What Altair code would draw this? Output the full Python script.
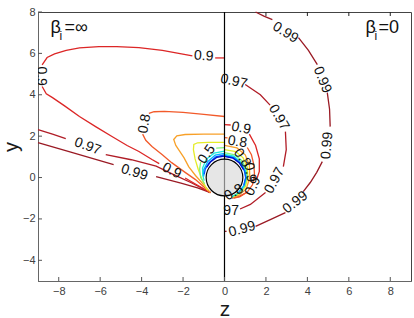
import altair as alt
import pandas as pd

# ---------------- values ----------------
X_TICKS = [-8, -6, -4, -2, 0, 2, 4, 6, 8]
Y_TICKS = [-4, -2, 0, 2, 4, 6, 8]
TOP_TICKS = [2, 4, 6, 8]

LEVELS = ["0.1", "0.2", "0.3", "0.4", "0.5", "0.6", "0.7", "0.8", "0.9", "0.97", "0.99"]
LEVEL_COLORS = ["#0010c8", "#0058ff", "#00b4ff", "#20ecd8", "#7cf27c", "#e4ec28",
                "#f8a028", "#f25a2a", "#dc2626", "#b01c26", "#9a1a24"]

# left half (beta_i = inf): contour segments, (z, y) points
L_099 = [[(-9.0, 1.69), (-7.5, 1.25), (-5.35, 0.63)],
         [(-3.3, 0.05), (-2.1, -0.27), (-1.3, -0.5), (-0.68, -0.73)]]
L_097 = [[(-9.0, 2.32), (-8.3, 2.1), (-7.66, 1.88)],
         [(-5.73, 1.11), (-4.5, 0.86), (-3.3, 0.55), (-2.4, 0.12), (-1.6, -0.25), (-0.68, -0.73)]]
L_090 = [[(-0.45, 5.78), (0.0, 5.78)],
         [(-1.55, 5.88), (-1.88, 5.94), (-3.0, 6.15), (-4.13, 6.28), (-5.2, 6.33), (-6.06, 6.33),
          (-7.0, 6.27), (-7.64, 6.15), (-8.2, 5.98), (-8.56, 5.8), (-8.8, 5.45)],
         [(-8.8, 4.4), (-8.6, 4.05), (-8.3, 3.86), (-7.7, 3.45), (-7.0, 2.95), (-6.2, 2.45),
          (-5.43, 1.98), (-4.7, 1.55), (-4.13, 1.26), (-3.5, 0.87), (-3.15, 0.67)],
         [(-1.9, -0.02), (-1.3, -0.37), (-0.68, -0.73)]]
L_080 = [[(0.0, 2.95), (-1.0, 3.05), (-2.0, 3.15), (-2.9, 3.2), (-3.4, 3.18), (-3.65, 3.1)],
         [(-3.95, 2.1), (-3.8, 1.8), (-3.5, 1.5), (-3.0, 1.1), (-2.55, 0.72), (-1.9, 0.25),
          (-1.4, -0.1), (-0.68, -0.73)]]
L_070 = [[(0.0, 2.1), (-1.0, 2.1), (-1.9, 2.08), (-2.3, 2.02), (-2.45, 1.84), (-2.35, 1.55),
          (-2.15, 1.25), (-1.95, 0.95), (-1.73, 0.53), (-1.4, 0.1), (-1.1, -0.24), (-0.68, -0.73)]]
L_060 = [[(0.0, 1.7), (-0.8, 1.7), (-1.3, 1.68), (-1.48, 1.6), (-1.5, 1.35), (-1.42, 0.9),
          (-1.27, 0.4), (-1.1, -0.05), (-0.9, -0.5), (-0.8, -0.62)]]
L_050 = [[(0.0, 1.45), (-0.4, 1.42)],
         [(-1.15, 0.75), (-1.2, 0.4), (-1.15, 0.0), (-0.96, -0.3)]]
L_040 = [[(0.0, 1.28), (-0.5, 1.18), (-0.88, 0.88), (-1.06, 0.45), (-1.05, 0.1), (-0.98, -0.15)]]
L_030 = [[(0.0, 1.17), (-0.45, 1.08), (-0.8, 0.78), (-1.0, 0.38), (-1.0, 0.05)]]
L_020 = [[(0.0, 1.09), (-0.42, 1.0), (-0.74, 0.72), (-0.93, 0.4), (-0.98, 0.15)]]
L_010 = [[(0.0, 1.04), (-0.38, 0.97), (-0.68, 0.75), (-0.86, 0.5)]]

# right half (beta_i = 0)
R_099 = [[(1.5, 8.0), (1.9, 7.8), (2.31, 7.63)],
         [(3.57, 6.76), (4.05, 6.15), (4.48, 5.46)],
         [(4.96, 4.1), (5.07, 3.3), (5.1, 2.46)],
         [(4.72, 0.77), (4.45, 0.25), (4.14, -0.24), (3.8, -0.68)],
         [(2.94, -1.7), (2.21, -2.03), (1.5, -2.36)],
         [(0.0, -2.6), (0.1, -2.6)]]
R_097 = [[(1.0, 4.5), (1.73, 4.0), (2.2, 3.5)],
         [(2.94, 2.22), (2.98, 1.35), (2.84, 0.53)],
         [(1.98, -0.72), (1.25, -1.3), (0.75, -1.52)]]
R_090 = [[(0.0, 2.56), (0.3, 2.54)],
         [(1.2, 2.1), (1.5, 1.55), (1.68, 0.9), (1.68, 0.3), (1.55, -0.1)],
         [(1.1, -0.7), (0.7, -0.92), (0.35, -1.0)]]
R_080 = [[(0.0, 1.93), (0.15, 1.92)],
         [(1.1, 1.45), (1.3, 1.1), (1.42, 0.6), (1.45, 0.1), (1.35, -0.35), (1.1, -0.7),
          (0.75, -0.92), (0.45, -1.0)]]
R_070 = [[(0.0, 1.55), (0.6, 1.43), (1.0, 1.1), (1.2, 0.6), (1.22, 0.0), (1.05, -0.55),
          (0.7, -0.85), (0.35, -0.97)]]
R_060 = [[(0.0, 1.35), (0.55, 1.25), (0.9, 0.95), (1.1, 0.5), (1.13, 0.0), (1.0, -0.45),
          (0.7, -0.78), (0.35, -0.95)]]
R_050 = [[(0.0, 1.2), (0.5, 1.1), (0.85, 0.8), (1.05, 0.4), (1.08, 0.0), (0.97, -0.42),
          (0.7, -0.75), (0.35, -0.94)]]
R_040 = [[(0.0, 1.12), (0.45, 1.03), (0.8, 0.73), (1.0, 0.35), (1.05, 0.0), (0.95, -0.4),
          (0.68, -0.74), (0.34, -0.94)]]
R_030 = [[(0.0, 1.07), (0.45, 0.98), (0.78, 0.7), (0.98, 0.34), (1.03, 0.0), (0.93, -0.39),
          (0.66, -0.74)]]
R_020 = [[(0.0, 1.04), (0.42, 0.96), (0.76, 0.69), (0.96, 0.32), (1.02, 0.0), (0.93, -0.38)]]
R_010 = [[(0.0, 1.02), (0.4, 0.94), (0.72, 0.7), (0.92, 0.38)]]

CONTOURS = [("0.99", L_099), ("0.97", L_097), ("0.9", L_090), ("0.8", L_080),
            ("0.7", L_070), ("0.6", L_060), ("0.5", L_050), ("0.4", L_040),
            ("0.3", L_030), ("0.2", L_020), ("0.1", L_010),
            ("0.99", R_099), ("0.97", R_097), ("0.9", R_090), ("0.8", R_080),
            ("0.7", R_070), ("0.6", R_060), ("0.5", R_050), ("0.4", R_040),
            ("0.3", R_030), ("0.2", R_020), ("0.1", R_010)]

# inline contour labels: text, z, y, rotation (degrees, clockwise)
LABEL_TEXT = ["0.9", "0.9", "0.8", "0.97", "0.99", "0.9", "0.5",
              "0.99", "0.99", "0.99", "0.99", "0.99",
              "0.97", "0.97", "0.97", "97", "0.9", "0.9", "0.8", "0.8", "0.9", "0.8"]
LABEL_Z = [-1.0, -8.85, -3.85, -6.6, -4.35, -2.55, -0.85,
           2.94, 4.72, 4.96, 3.42, 0.85,
           0.45, 2.62, 2.42, 0.32, 0.8, 1.38, 0.62, 0.85, 1.22, 0.45]
LABEL_Y = [5.87, 4.9, 2.6, 1.5, 0.24, 0.32, 1.12,
           7.0, 4.72, 1.55, -1.2, -2.5,
           4.64, 2.9, -0.15, -1.62, 2.38, -0.42, 1.72, 0.95, 0.25, -0.72]
LABEL_ANGLE = [3, 90, 280, 20, 17, 28, 305,
               32, 68, 275, 322, 345,
               12, 60, 298, 0, 12, 295, 8, 55, 80, 330]

# panel annotations (beta_i = inf on the left, beta_i = 0 on the right)
ANN_TEXT = ["β", "=∞", "β", "=0"]
ANN_Z = [-8.4, -7.72, 6.8, 7.43]
ANN_Y = [7.25, 7.25, 7.25, 7.25]
SUB_Z = [-7.96, 7.24]
SUB_Y = [6.86, 6.86]

# ---------------- build tables ----------------
rows = []
seg = 0
for lev, segments in CONTOURS:
    for s in segments:
        for i, (zz, yy) in enumerate(s):
            rows.append({"seg": seg, "level": lev, "i": i, "z": zz, "y": yy})
        seg += 1
lines_df = pd.DataFrame(rows)
labels_df = pd.DataFrame({"text": LABEL_TEXT, "z": LABEL_Z, "y": LABEL_Y, "angle": LABEL_ANGLE})
ann_df = pd.DataFrame({"text": ANN_TEXT, "z": ANN_Z, "y": ANN_Y})
sub_df = pd.DataFrame({"text": ["i", "i"], "z": SUB_Z, "y": SUB_Y})

W, H = 373, 269
FONT = "Liberation Sans"
xs = alt.Scale(domain=[-9, 9], nice=False, zero=False)
ys = alt.Scale(domain=[-5, 8], nice=False, zero=False)

X_AXIS = alt.Axis(
    values=X_TICKS, ticks=False, grid=False, title="z", labelPadding=4, titlePadding=2,
    labelFont=FONT, labelFontSize=11, labelColor="#404040", domainColor="#666666",
    titleFont=FONT, titleFontSize=21, titleFontWeight="normal", titleColor="#1a1a1a")
Y_AXIS = alt.Axis(
    values=Y_TICKS, ticks=False, grid=False, title="y", labelPadding=3, titlePadding=1,
    labelFont=FONT, labelFontSize=11, labelColor="#404040", domainColor="#666666",
    titleFont=FONT, titleFontSize=20, titleFontWeight="normal", titleColor="#1a1a1a")


def X():
    return alt.X("z:Q", scale=xs, axis=X_AXIS, title="z")


def Y():
    return alt.Y("y:Q", scale=ys, axis=Y_AXIS, title="y")


lines = alt.Chart(lines_df).mark_line(strokeWidth=1.3).encode(
    x=X(), y=Y(),
    color=alt.Color("level:N", scale=alt.Scale(domain=LEVELS, range=LEVEL_COLORS), legend=None),
    detail="seg:N",
    order="i:Q",
)

zero_rule = alt.Chart(pd.DataFrame({"z": [0]})).mark_rule(color="black", strokeWidth=1.2).encode(x=X())

body = alt.Chart(pd.DataFrame({"z": [0], "y": [0]}))
disk = body.mark_point(shape="circle", size=1346, filled=True, color="#d6d6d6", opacity=0.62).encode(
    x=X(), y=Y())
ring = body.mark_point(shape="circle", size=1346, filled=False, color="black", strokeWidth=1.2,
                       opacity=1).encode(x=X(), y=Y())

labels = alt.Chart(labels_df).mark_text(font=FONT, fontSize=14, color="#111111", clip=True).encode(
    x=X(), y=Y(), text="text:N", angle=alt.Angle("angle:Q", scale=None))

ann = alt.Chart(ann_df).mark_text(font=FONT, fontSize=18, color="#111111", align="left").encode(
    x=X(), y=Y(), text="text:N")
sub = alt.Chart(sub_df).mark_text(font=FONT, fontSize=12, color="#111111", align="left").encode(
    x=X(), y=Y(), text="text:N")

bottom_ticks = alt.Chart(pd.DataFrame({"z": X_TICKS})).mark_rule(color="#555555").encode(
    x=X(), y=alt.value(H), y2=alt.value(H - 4))
left_ticks = alt.Chart(pd.DataFrame({"y": Y_TICKS})).mark_rule(color="#555555").encode(
    y=Y(), x=alt.value(0), x2=alt.value(4))
top_ticks = alt.Chart(pd.DataFrame({"z": TOP_TICKS})).mark_rule(color="#222222").encode(
    x=X(), y=alt.value(0), y2=alt.value(4))

chart = alt.layer(lines, zero_rule, disk, ring, labels, ann, sub,
                  bottom_ticks, left_ticks, top_ticks).properties(
    width=W, height=H,
    autosize=alt.AutoSizeParams(type="none"),
    padding={"left": 38, "top": 12, "right": 3, "bottom": 37},
    background="white",
).configure_view(stroke="#444444", strokeWidth=1)

chart.save("out.html", embed_options={"renderer": "svg", "actions": False})
